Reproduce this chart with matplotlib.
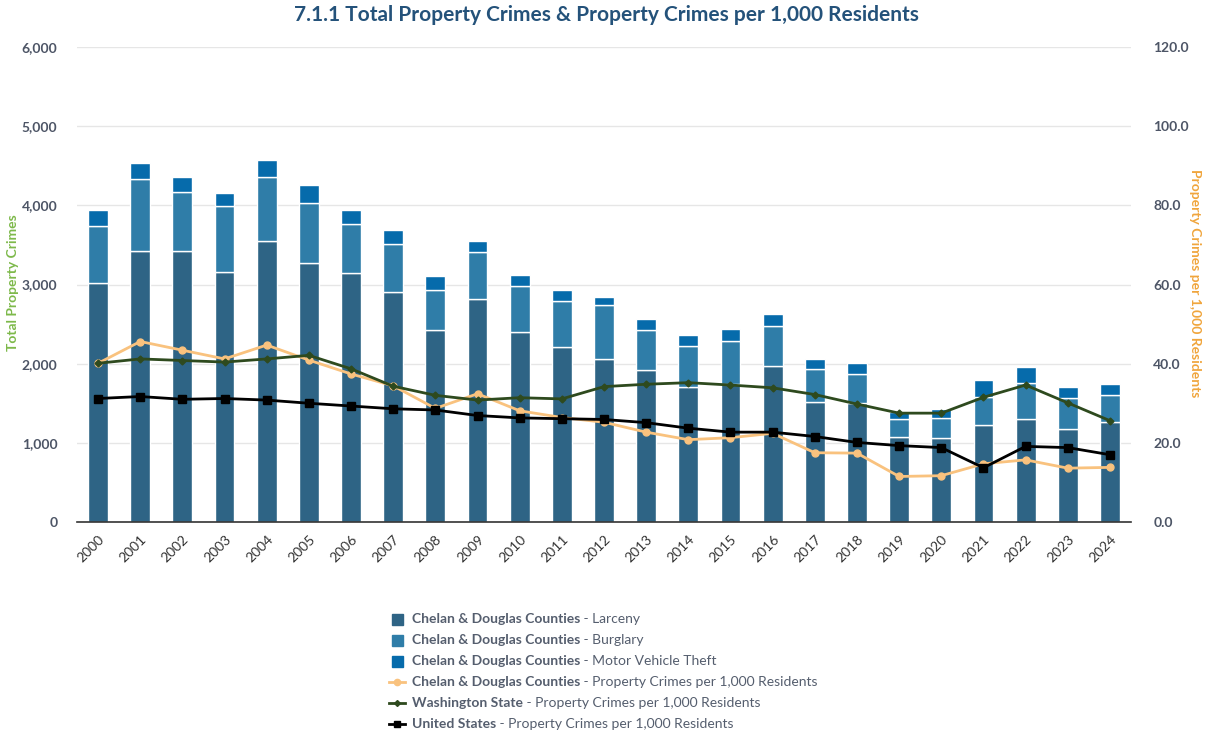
import matplotlib
matplotlib.use("Agg")
import matplotlib.pyplot as plt
from matplotlib.lines import Line2D
from matplotlib.patches import Rectangle
import numpy as np

plt.rcParams['font.family'] = ['Lato', 'DejaVu Sans']

years = [str(y) for y in range(2000, 2025)]
larceny = [3015, 3419, 3419, 3154, 3545, 3267, 3141, 2901, 2421, 2813, 2396, 2206, 2055,
           1916, 1701, 1743, 1966, 1512, 1499, 1070, 1057, 1229, 1297, 1171, 1267]
burglary = [724, 910, 745, 834, 809, 758, 619, 606, 513, 593, 581, 581, 682,
            505, 518, 539, 510, 416, 366, 227, 253, 346, 455, 391, 333]
mvt = [202, 201, 190, 163, 214, 228, 177, 177, 169, 143, 143, 143, 105,
       143, 143, 156, 151, 131, 143, 93, 113, 219, 206, 143, 143]
county_rate = [40.1, 45.6, 43.4, 41.2, 44.7, 40.9, 37.4, 34.4, 28.7, 32.4, 28.1, 26.4, 25.2,
               22.7, 20.8, 21.3, 22.4, 17.5, 17.4, 11.5, 11.7, 14.7, 15.7, 13.6, 13.8]
wa_rate = [40.1, 41.2, 40.8, 40.4, 41.2, 42.1, 38.7, 34.3, 32.0, 30.8, 31.4, 31.1, 34.2,
           34.8, 35.2, 34.6, 33.9, 32.2, 29.8, 27.5, 27.5, 31.5, 34.6, 30.1, 25.6]
us_rate = [31.2, 31.7, 31.0, 31.2, 30.8, 30.0, 29.3, 28.6, 28.3, 26.9, 26.3, 26.1, 25.9,
           25.1, 23.7, 22.7, 22.7, 21.6, 20.1, 19.3, 18.8, 13.7, 19.1, 18.8, 17.0]

left_ticks = [0, 1000, 2000, 3000, 4000, 5000, 6000]
right_ticks = [0, 20, 40, 60, 80, 100, 120]

c_larc = '#2E6485'
c_burg = '#2F7DA8'
c_mvt = '#066BAB'
c_county = '#F9C27E'
c_wa = '#2E4A1E'
c_us = '#000000'
tick_col = '#4D5566'

W, H = 1212, 742
fig = plt.figure(figsize=(W / 100, H / 100), dpi=100)
ax = fig.add_axes([77 / W, 220 / H, 1054 / W, 475 / H])
x = np.arange(len(years))
bw = 0.47

bottom2 = np.array(larceny)
bottom3 = bottom2 + np.array(burglary)
ax.bar(x, larceny, bw, color=c_larc, edgecolor='white', linewidth=1, zorder=2)
ax.bar(x, burglary, bw, bottom=bottom2, color=c_burg, edgecolor='white', linewidth=1, zorder=2)
ax.bar(x, mvt, bw, bottom=bottom3, color=c_mvt, edgecolor='white', linewidth=1, zorder=2)

ax.set_xlim(-0.5, len(years) - 0.5)
ax.set_ylim(0, 6000)
ax.set_yticks(left_ticks)
ax.set_yticklabels([f"{v:,}" for v in left_ticks])
ax.set_xticks(x)
ax.set_xticklabels(years, rotation=45, ha='right', rotation_mode='anchor')
ax.grid(axis='y', color='#E6E6E6', linewidth=1, zorder=0)
ax.set_axisbelow(True)
for s in ['top', 'right', 'left']:
    ax.spines[s].set_visible(False)
ax.spines['bottom'].set_color('#333333')
ax.spines['bottom'].set_linewidth(1.2)
ax.tick_params(axis='y', length=0, pad=14, labelsize=10, labelcolor=tick_col)
ax.tick_params(axis='x', length=0, pad=8, labelsize=10, labelcolor='#333333')
for lbl in ax.get_yticklabels():
    lbl.set_fontweight('bold')

ax2 = ax.twinx()
ax2.set_ylim(0, 120)
ax2.set_yticks(right_ticks)
ax2.set_yticklabels([f"{v:.1f}" for v in right_ticks])
for s in ['top', 'right', 'left', 'bottom']:
    ax2.spines[s].set_visible(False)
ax2.tick_params(axis='y', length=0, pad=16, labelsize=10, labelcolor=tick_col)
for lbl in ax2.get_yticklabels():
    lbl.set_fontweight('bold')

ax2.plot(x, county_rate, color=c_county, lw=2, marker='o', ms=5, zorder=3)
ax2.plot(x, wa_rate, color=c_wa, lw=2, marker='D', ms=3.5, zorder=4)
ax2.plot(x, us_rate, color=c_us, lw=2, marker='s', ms=5.5, zorder=5)

fig.text(0.5, 1 - 15 / H, "7.1.1 Total Property Crimes & Property Crimes per 1,000 Residents",
         ha='center', va='center', fontsize=15, fontweight='bold', color='#24527A')
fig.text(13 / W, 1 - 283 / H, "Total Property Crimes", rotation=90, ha='center', va='center',
         fontsize=10, fontweight='bold', color='#7DB94A')
fig.text(1195 / W, 1 - 283 / H, "Property Crimes per 1,000 Residents", rotation=270, ha='center',
         va='center', fontsize=10, fontweight='bold', color='#F0A53C')

# legend
entries = [
    ('patch', c_larc, None, "Chelan & Douglas Counties", " - Larceny"),
    ('patch', c_burg, None, "Chelan & Douglas Counties", " - Burglary"),
    ('patch', c_mvt, None, "Chelan & Douglas Counties", " - Motor Vehicle Theft"),
    ('line', c_county, 'o', "Chelan & Douglas Counties", " - Property Crimes per 1,000 Residents"),
    ('line', c_wa, 'D', "Washington State", " - Property Crimes per 1,000 Residents"),
    ('line', c_us, 's', "United States", " - Property Crimes per 1,000 Residents"),
]
leg_col = '#555E6E'
fig.canvas.draw()
renderer = fig.canvas.get_renderer()
y0 = 619
for i, (kind, col, mk, bold, rest) in enumerate(entries):
    yc = y0 + i * 21
    yf = 1 - yc / H
    if kind == 'patch':
        fig.patches.append(Rectangle(((397 - 5.5) / W, yf - 5.5 / H), 11 / W, 11 / H,
                                     transform=fig.transFigure, color=col, figure=fig))
    else:
        fig.add_artist(Line2D([389 / W, 405 / W], [yf, yf], transform=fig.transFigure,
                              color=col, lw=2))
        ms = {'o': 4.5, 'D': 3, 's': 4.5}[mk]
        fig.add_artist(Line2D([397 / W], [yf], transform=fig.transFigure, color=col,
                              marker=mk, ms=ms, lw=0))
    t1 = fig.text(412 / W, yf, bold, ha='left', va='center', fontsize=10,
                  fontweight='bold', color=leg_col)
    bb = t1.get_window_extent(renderer)
    fig.text(bb.x1 / W, yf, rest, ha='left', va='center', fontsize=10, color=leg_col)

fig.savefig('out.png', dpi=100)
